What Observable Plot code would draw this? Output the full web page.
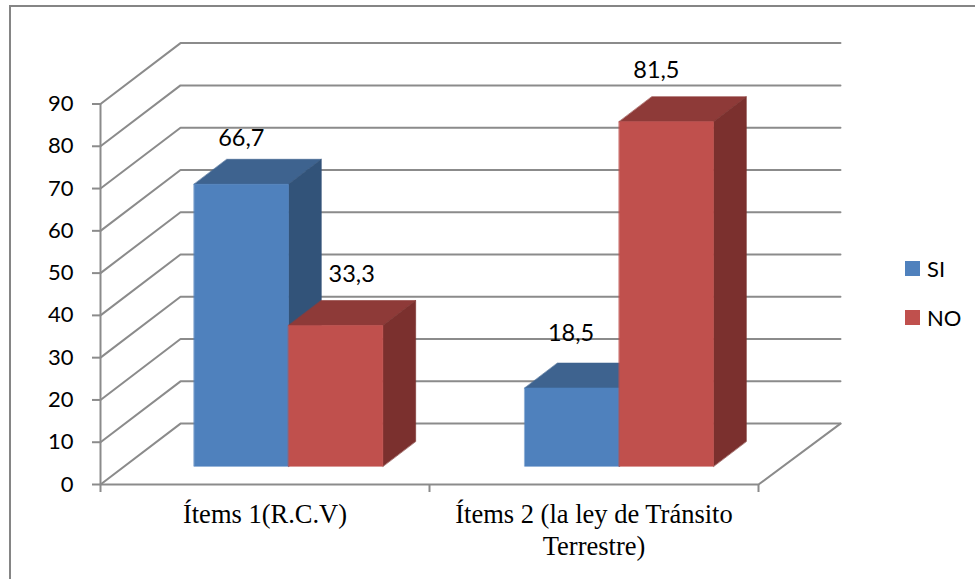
<!DOCTYPE html>
<html lang="es">
<head>
<meta charset="utf-8">
<title>Ítems SI / NO</title>
<script src="https://cdn.jsdelivr.net/npm/d3@7"></script>
<script src="https://cdn.jsdelivr.net/npm/@observablehq/plot@0.6"></script>
<style>
  html, body { margin: 0; padding: 0; background: #fff; }
  #chart { position: relative; width: 975px; height: 579px; overflow: hidden; }
  #chart svg { position: absolute; left: 0; top: 0; }
  #edge { position: absolute; left: 9px; top: 5px; right: 0; bottom: 0;
          border-left: 2px solid #858585; border-top: 2px solid #858585; }
  #legend { position: absolute; left: 905px; top: 244px;
            font: 22px Lato, sans-serif; color: #000; }
  #legend div { display: flex; align-items: center; height: 49px; }
  #legend i { display: block; width: 15px; height: 15px; margin-right: 7px; }
</style>
</head>
<body>
<div id="chart"><div id="edge"></div></div>
<script>
// Chart values
const categories = ["Ítems 1(R.C.V)", "Ítems 2 (la ley de Tránsito\nTerrestre)"];
const seriesNames = ["SI", "NO"];
const siValues = [66.7, 18.5];
const noValues = [33.3, 81.5];
const valueTicks = [0, 10, 20, 30, 40, 50, 60, 70, 80, 90];

// Face colours: front, top, side
const palette = {
  SI: {front: "#4f81bd", top: "#3e638f", side: "#325379"},
  NO: {front: "#c0504d", top: "#8e3a38", side: "#7b302e"}
};

// Oblique projection: a depth z in 0..1 moves a point right and up,
// both expressed in the units of the x and y scales.
const depthX = 80 / 329;
const depthY = 14.4;
const project = (x, v, z) => ({x: x + z * depthX, y: v + z * depthY});

const barFront = 0.3, barBack = 0.71;
const barWidth = 0.2868;
const barCenters = [0.4985, 1.5036];
const backWallEnd = 2.006;
const gridColor = "#8b8b8b";

// One filled polygon for a face given as [x, value, depth] corners
const face = (corners, fill) =>
  Plot.line(corners.map(c => project(...c)), {
    x: "x", y: "y", fill, stroke: fill, strokeWidth: 0.6, curve: "linear-closed"
  });

// Front, top and side faces of one bar
function bar(x0, value, colors) {
  const x1 = x0 + barWidth;
  return [
    face([[x0, value, barFront], [x1, value, barFront], [x1, value, barBack], [x0, value, barBack]], colors.top),
    face([[x1, 0, barFront], [x1, value, barFront], [x1, value, barBack], [x1, 0, barBack]], colors.side),
    face([[x0, 0, barFront], [x1, 0, barFront], [x1, value, barFront], [x0, value, barFront]], colors.front)
  ];
}

// Gridline running along the left wall and then the back wall
const gridLines = valueTicks.map(v =>
  Plot.line([project(0, v, 0), project(0, v, 1), project(backWallEnd, v, 1)], {
    x: "x", y: "y", stroke: gridColor, strokeWidth: 2
  })
);

const bars = categories.flatMap((_, i) => [
  ...bar(barCenters[i] - barWidth, siValues[i], palette.SI),
  ...bar(barCenters[i], noValues[i], palette.NO)
]);

// Value labels sit above each bar, nudged clear of its top face
const valueLabel = (i, value, side, dx, dy) =>
  Plot.text([value], {
    x: () => project(barCenters[i] + side * barWidth / 2, value, barFront).x,
    y: () => project(barCenters[i], value, barFront).y,
    text: d => d.toFixed(1).replace(".", ","),
    dx, dy,
    fontFamily: "Lato, sans-serif", fontSize: 23.5, fill: "#000"
  });

const plot = Plot.plot({
  width: 975,
  height: 579,
  marginLeft: 100,
  marginRight: 217,
  marginTop: 103.5,
  marginBottom: 95,
  style: {background: "transparent"},
  x: {domain: [0, 2]},
  y: {domain: [0, 90]},
  marks: [
    ...gridLines,
    // Front edges of the floor and the value axis
    Plot.line([project(0, 0, 0), project(2, 0, 0), project(backWallEnd, 0, 1)], {
      x: "x", y: "y", stroke: gridColor, strokeWidth: 2
    }),
    Plot.ruleX([0], {y1: 0, y2: 90, stroke: gridColor, strokeWidth: 2}),
    Plot.axisY({
      ticks: valueTicks, tickSize: 8, tickPadding: 19, stroke: gridColor, strokeWidth: 2,
      fill: "#000", fontFamily: "Lato, sans-serif", fontSize: 22, label: null
    }),
    Plot.axisX({
      ticks: [0, 1, 2], tickSize: 8, stroke: gridColor, strokeWidth: 2,
      tickFormat: () => "", label: null
    }),
    ...bars,
    Plot.axisX({
      ticks: [0.5, 1.5], tickSize: 0, tickPadding: 16,
      tickFormat: d => categories[Math.floor(d)],
      fill: "#000", fontFamily: "Liberation Serif, serif", fontSize: 26.5,
      lineHeight: 1.21, label: null
    }),
    valueLabel(0, siValues[0], -1, 0, -46),
    valueLabel(0, noValues[0], 1, 16, -51),
    valueLabel(1, siValues[1], -1, -1, -55),
    valueLabel(1, noValues[1], 1, -10, -51)
  ]
});

const chart = document.getElementById("chart");
chart.appendChild(plot);

// Series key to the right of the plot
const legend = document.createElement("div");
legend.id = "legend";
for (const name of seriesNames) {
  const row = document.createElement("div");
  const swatch = document.createElement("i");
  swatch.style.background = palette[name].front;
  row.append(swatch, name);
  legend.append(row);
}
chart.appendChild(legend);
</script>
</body>
</html>
